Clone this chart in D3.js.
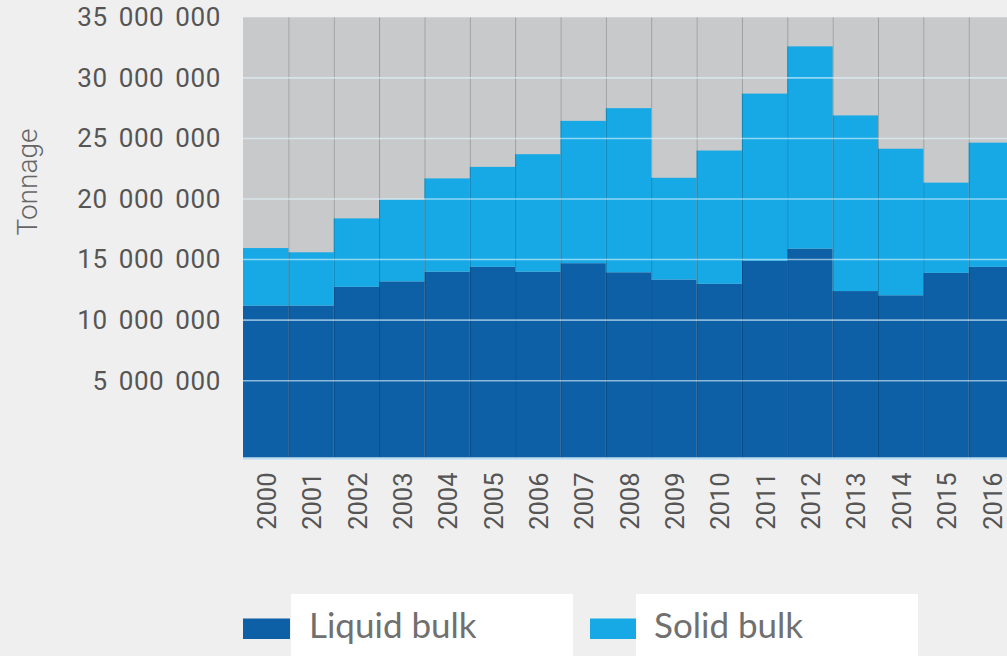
<!DOCTYPE html>
<html>
<head>
<meta charset="utf-8">
<script src="https://cdn.jsdelivr.net/npm/d3@7/dist/d3.min.js"></script>
<style>
  html, body { margin: 0; padding: 0; background: #efefef; }
  svg { display: block; }
</style>
</head>
<body>
<svg id="chart" width="1007" height="656"></svg>
<script>
// ---- data (tonnes) ----
const years = ["2000","2001","2002","2003","2004","2005","2006","2007","2008",
               "2009","2010","2011","2012","2013","2014","2015","2016"];
const liquidBulk = [11200000, 11200000, 12750000, 13200000, 14000000, 14400000, 14000000, 14700000, 13950000,
                    13350000, 13000000, 14900000, 15900000, 12400000, 12050000, 13900000, 14400000];
const solidBulk  = [4750000, 4400000, 5650000, 6750000, 7700000, 8250000, 9700000, 11750000, 13550000,
                    8400000, 11000000, 13800000, 16700000, 14500000, 12100000, 7450000, 10250000];
const yTickValues = [5000000, 10000000, 15000000, 20000000, 25000000, 30000000, 35000000];
const seriesNames = ["Liquid bulk", "Solid bulk"];
const seriesColors = ["#0d5fa6", "#17a9e5"];

(function () {
const rows = years.map((y, i) => ({ year: y, liquid: liquidBulk[i], solid: solidBulk[i] }));

const svg = d3.select("#chart");
const pLeft = 243, pRight = 1014, pTop = 17.3, pBottom = 457.5;
const yMin = -1340000, yMax = 35000000;

const x = d3.scaleBand().domain(years).range([pLeft, pRight]).padding(0);
const y = d3.scaleLinear().domain([yMin, yMax]).range([pBottom, pTop]);

svg.append("clipPath").attr("id", "clip")
  .append("rect").attr("x", pLeft).attr("y", 0).attr("width", 1007 - pLeft).attr("height", 656);

const plot = svg.append("g").attr("clip-path", "url(#clip)");

// grey column backgrounds
plot.append("g").selectAll("rect").data(years).join("rect")
  .attr("x", d => x(d)).attr("width", x.bandwidth())
  .attr("y", y(yMax)).attr("height", y(yMin) - y(yMax))
  .attr("fill", "#c8c9cb");

// stacked bars
const stacked = d3.stack().keys(["liquid", "solid"])(rows);
plot.append("g").selectAll("g").data(stacked).join("g")
  .attr("fill", (d, i) => seriesColors[i])
  .selectAll("rect").data(d => d).join("rect")
  .attr("x", d => x(d.data.year))
  .attr("width", x.bandwidth())
  .attr("y", d => y(d[1]))
  .attr("height", d => (d[0] === 0 ? y(yMin) : y(d[0])) - y(d[1]));

// column separators
plot.append("g").selectAll("line").data(years.slice(1)).join("line")
  .attr("x1", d => x(d) + 0.5).attr("x2", d => x(d) + 0.5)
  .attr("y1", y(yMax)).attr("y2", y(yMin))
  .attr("stroke", "rgba(0,0,0,0.22)").attr("stroke-width", 1);

// gridlines
plot.append("g").selectAll("line").data(yTickValues.filter(v => v < yMax)).join("line")
  .attr("x1", pLeft).attr("x2", 1007)
  .attr("y1", d => y(d)).attr("y2", d => y(d))
  .attr("stroke", "rgba(225,245,255,0.6)").attr("stroke-width", 1.6);

// bottom axis line
svg.append("line").attr("x1", pLeft).attr("x2", 1007)
  .attr("y1", pBottom + 1).attr("y2", pBottom + 1)
  .attr("stroke", "#b9def3").attr("stroke-width", 2);

// y axis labels
const fmt = v => d3.format(",")(v).replace(/,/g, " ");
const yAxis = d3.axisLeft(y).tickValues(yTickValues).tickFormat(fmt).tickSize(0).tickPadding(0);
const yg = svg.append("g").attr("transform", "translate(221,0)").call(yAxis);
yg.select(".domain").remove();
yg.selectAll("text")
  .attr("font-family", "Roboto, 'DejaVu Sans', sans-serif")
  .attr("font-size", 26)
  .attr("fill", "#555")
  .style("letter-spacing", "0.6px")
  .style("word-spacing", "4px");

// x axis labels
const xAxis = d3.axisBottom(x).tickSize(0).tickPadding(0);
const xg = svg.append("g").attr("transform", `translate(0,${pBottom})`).call(xAxis);
xg.select(".domain").remove();
xg.selectAll("text")
  .attr("font-family", "Roboto, 'DejaVu Sans', sans-serif")
  .attr("font-size", 25.5)
  .attr("fill", "#555")
  .attr("text-anchor", "end")
  .attr("transform", "translate(1,15) rotate(-90)")
  .attr("x", 0).attr("y", 0).attr("dy", "0.36em");

// y axis title
svg.append("text")
  .attr("transform", "translate(37,182) rotate(-90)")
  .attr("text-anchor", "middle")
  .attr("font-family", "Roboto, 'DejaVu Sans', sans-serif")
  .attr("font-weight", 300)
  .attr("font-size", 28)
  .attr("fill", "#666")
  .text("Tonnage");

// legend
const legendItems = [
  { name: seriesNames[0], color: seriesColors[0], sx: 243, sw: 47, bx: 291, bw: 282, tx: 309 },
  { name: seriesNames[1], color: seriesColors[1], sx: 590, sw: 46, bx: 636, bw: 282, tx: 654 }
];
const lg = svg.append("g");
legendItems.forEach(it => {
  lg.append("rect").attr("x", it.bx).attr("y", 594).attr("width", it.bw).attr("height", 62).attr("fill", "#ffffff");
  lg.append("rect").attr("x", it.sx).attr("y", 618.5).attr("width", it.sw).attr("height", 20.5).attr("fill", it.color);
  lg.append("text").attr("x", it.tx).attr("y", 638.3)
    .attr("font-family", "Lato, 'Open Sans', sans-serif")
    .attr("font-size", 35)
    .attr("fill", "#707070")
    .text(it.name);
});
})();
</script>
</body>
</html>
